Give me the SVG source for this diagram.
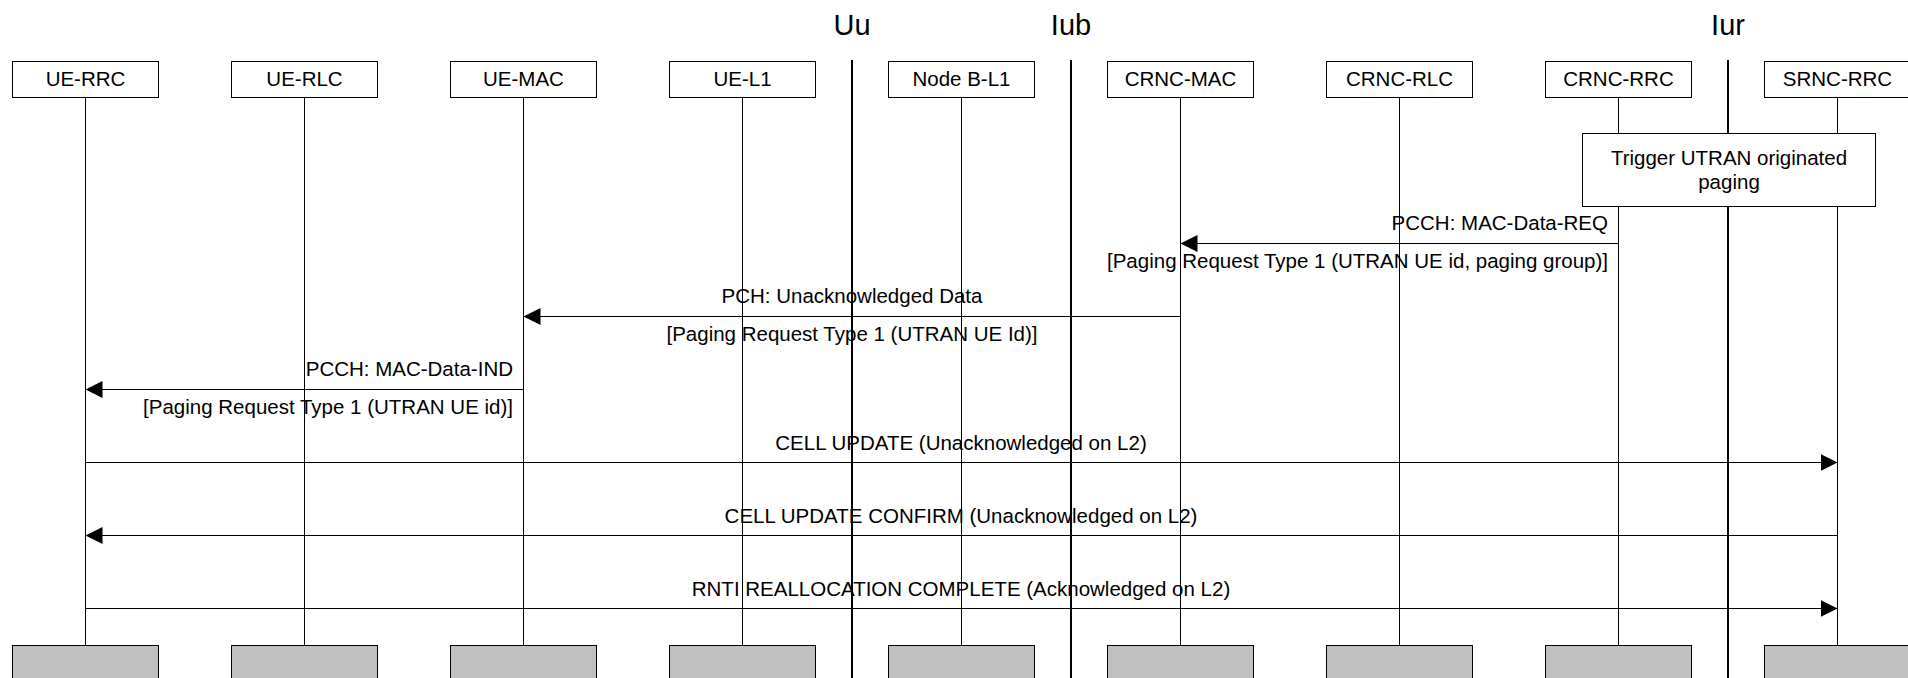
<svg xmlns="http://www.w3.org/2000/svg" width="1908" height="678" viewBox="0 0 1908 678">
<style>
.bg{fill:#ffffff}
.box{fill:#ffffff;stroke:#000000;stroke-width:1}
.endbox{fill:#c0c0c0;stroke:#000000;stroke-width:1}
.life{stroke:#000000;stroke-width:1;fill:none}
.iface{stroke:#000000;stroke-width:2;fill:none}
.msg{stroke:#000000;stroke-width:1;fill:none;marker-end:url(#arr)}
text{font-family:"Liberation Sans",Arial,sans-serif;fill:#000000}
.nt{font-size:20.5px;text-anchor:middle}
.it{font-size:29px;text-anchor:middle}
.ml{font-size:20.5px;text-anchor:middle}
.mr{font-size:20.5px;text-anchor:end}
</style>
<defs>
<marker id="arr" markerUnits="userSpaceOnUse" markerWidth="17" markerHeight="17" refX="17" refY="8.5" orient="auto">
<path d="M0,0 L17,8.5 L0,17 Z" fill="#000000"/>
</marker>
</defs>
<rect class="bg" x="0" y="0" width="1908" height="678"/>

<g id="interfaces">
<text class="it" x="852" y="35">Uu</text>
<line class="iface" x1="852" y1="60" x2="852" y2="678"/>
<text class="it" x="1071" y="35">Iub</text>
<line class="iface" x1="1071" y1="60" x2="1071" y2="678"/>
<text class="it" x="1728" y="35">Iur</text>
<line class="iface" x1="1728" y1="60" x2="1728" y2="678"/>
</g>

<g id="ue-rrc">
<line class="life" x1="85.5" y1="98" x2="85.5" y2="645"/>
<rect class="box" x="12.5" y="61.5" width="146" height="36"/>
<text class="nt" x="85.5" y="86">UE-RRC</text>
<rect class="endbox" x="12.5" y="645.5" width="146" height="40"/>
</g>
<g id="ue-rlc">
<line class="life" x1="304.5" y1="98" x2="304.5" y2="645"/>
<rect class="box" x="231.5" y="61.5" width="146" height="36"/>
<text class="nt" x="304.5" y="86">UE-RLC</text>
<rect class="endbox" x="231.5" y="645.5" width="146" height="40"/>
</g>
<g id="ue-mac">
<line class="life" x1="523.5" y1="98" x2="523.5" y2="645"/>
<rect class="box" x="450.5" y="61.5" width="146" height="36"/>
<text class="nt" x="523.5" y="86">UE-MAC</text>
<rect class="endbox" x="450.5" y="645.5" width="146" height="40"/>
</g>
<g id="ue-l1">
<line class="life" x1="742.5" y1="98" x2="742.5" y2="645"/>
<rect class="box" x="669.5" y="61.5" width="146" height="36"/>
<text class="nt" x="742.5" y="86">UE-L1</text>
<rect class="endbox" x="669.5" y="645.5" width="146" height="40"/>
</g>
<g id="nodeb-l1">
<line class="life" x1="961.5" y1="98" x2="961.5" y2="645"/>
<rect class="box" x="888.5" y="61.5" width="146" height="36"/>
<text class="nt" x="961.5" y="86">Node B-L1</text>
<rect class="endbox" x="888.5" y="645.5" width="146" height="40"/>
</g>
<g id="crnc-mac">
<line class="life" x1="1180.5" y1="98" x2="1180.5" y2="645"/>
<rect class="box" x="1107.5" y="61.5" width="146" height="36"/>
<text class="nt" x="1180.5" y="86">CRNC-MAC</text>
<rect class="endbox" x="1107.5" y="645.5" width="146" height="40"/>
</g>
<g id="crnc-rlc">
<line class="life" x1="1399.5" y1="98" x2="1399.5" y2="645"/>
<rect class="box" x="1326.5" y="61.5" width="146" height="36"/>
<text class="nt" x="1399.5" y="86">CRNC-RLC</text>
<rect class="endbox" x="1326.5" y="645.5" width="146" height="40"/>
</g>
<g id="crnc-rrc">
<line class="life" x1="1618.5" y1="98" x2="1618.5" y2="645"/>
<rect class="box" x="1545.5" y="61.5" width="146" height="36"/>
<text class="nt" x="1618.5" y="86">CRNC-RRC</text>
<rect class="endbox" x="1545.5" y="645.5" width="146" height="40"/>
</g>
<g id="srnc-rrc">
<line class="life" x1="1837.5" y1="98" x2="1837.5" y2="645"/>
<rect class="box" x="1764.5" y="61.5" width="146" height="36"/>
<text class="nt" x="1837.5" y="86">SRNC-RRC</text>
<rect class="endbox" x="1764.5" y="645.5" width="146" height="40"/>
</g>

<g id="trigger">
<rect class="box" x="1582.5" y="133.5" width="293" height="73"/>
<text class="ml" x="1729" y="165">Trigger UTRAN originated</text>
<text class="ml" x="1729" y="189">paging</text>
</g>

<g id="connectors">
<line class="msg" x1="1618.5" y1="243.5" x2="1180.5" y2="243.5"/>
<text class="mr" x="1608" y="230">PCCH: MAC-Data-REQ</text>
<text class="mr" x="1608" y="268">[Paging Request Type 1 (UTRAN UE id, paging group)]</text>

<line class="msg" x1="1180.5" y1="316.5" x2="523.5" y2="316.5"/>
<text class="ml" x="852" y="303">PCH: Unacknowledged Data</text>
<text class="ml" x="852" y="341">[Paging Request Type 1 (UTRAN UE Id)]</text>

<line class="msg" x1="523.5" y1="389.5" x2="85.5" y2="389.5"/>
<text class="mr" x="513" y="376">PCCH: MAC-Data-IND</text>
<text class="mr" x="513" y="414">[Paging Request Type 1 (UTRAN UE id)]</text>

<line class="msg" x1="85.5" y1="462.5" x2="1837.5" y2="462.5"/>
<text class="ml" x="961" y="450">CELL UPDATE (Unacknowledged on L2)</text>

<line class="msg" x1="1837.5" y1="535.5" x2="85.5" y2="535.5"/>
<text class="ml" x="961" y="523">CELL UPDATE CONFIRM (Unacknowledged on L2)</text>

<line class="msg" x1="85.5" y1="608.5" x2="1837.5" y2="608.5"/>
<text class="ml" x="961" y="596">RNTI REALLOCATION COMPLETE (Acknowledged on L2)</text>
</g>
</svg>
